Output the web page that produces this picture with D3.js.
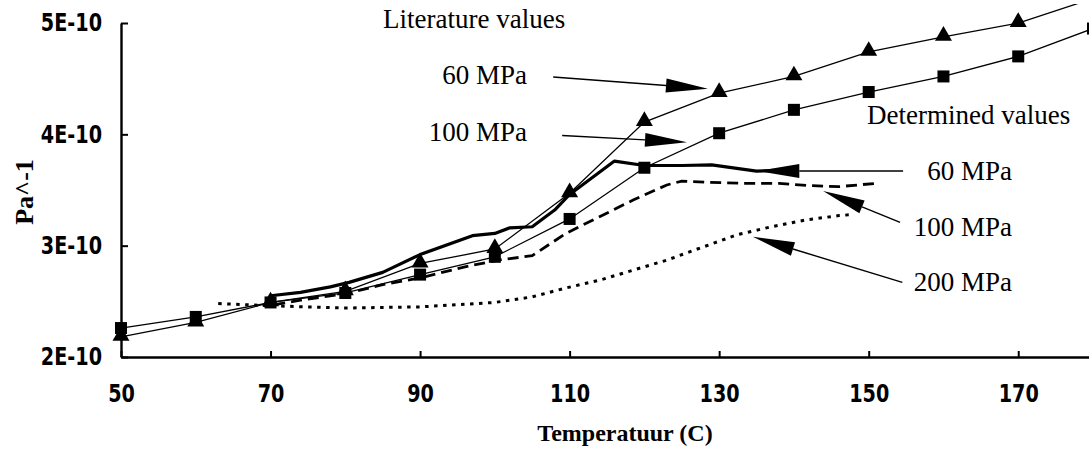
<!DOCTYPE html>
<html>
<head>
<meta charset="utf-8">
<script src="https://cdn.jsdelivr.net/npm/d3@7"></script>
<style>
  body { margin: 0; background: #fff; }
  svg { display: block; }
</style>
</head>
<body>
<div id="chart"></div>
<script>
// values in units of 1E-10 Pa^-1
const temps = [50, 60, 70, 80, 90, 100, 110, 120, 130, 140, 150, 160, 170, 180];
const literature = [2.18, 2.31, 2.49, 2.59, 2.84, 2.97, 3.47, 4.11, 4.37, 4.52, 4.74, 4.875, 5.0, 5.22];
const determined = [2.26, 2.36, 2.49, 2.575, 2.74, 2.90, 3.24, 3.70, 4.01, 4.22, 4.38, 4.52, 4.70, 4.95];

// determined values, measured curves
const t60 = [70, 74, 78, 80.5, 85, 90, 97, 100, 102, 105, 108, 110, 116, 120, 125, 129, 135, 140];
const v60 = [2.55, 2.58, 2.63, 2.67, 2.76, 2.92, 3.09, 3.11, 3.16, 3.17, 3.32, 3.46, 3.76, 3.72, 3.72, 3.725, 3.67, 3.68];
const t100 = [70.5, 74, 80.5, 85, 90, 96, 100.5, 105, 109.5, 114, 118.5, 123, 125, 128, 133, 138, 142, 146, 151];
const v100 = [2.47, 2.51, 2.575, 2.65, 2.71, 2.81, 2.87, 2.91, 3.11, 3.26, 3.41, 3.545, 3.58, 3.57, 3.56, 3.56, 3.54, 3.53, 3.56];
const t200 = [63, 70, 80, 90, 100, 105, 109.5, 114, 118.5, 123, 127.5, 132.5, 137, 141.5, 146, 148];
const v200 = [2.48, 2.46, 2.44, 2.45, 2.49, 2.54, 2.62, 2.69, 2.78, 2.87, 2.98, 3.10, 3.17, 3.23, 3.27, 3.28];

const xTicks = [50, 70, 90, 110, 130, 150, 170];
const yTicks = [2, 3, 4, 5];

// annotation arrows: [fromT, fromV, toT, toV]
const arrows = [
  [107.8, 4.515, 128.5, 4.41],
  [109.0, 3.99, 125.7, 3.93],
  [154.6, 3.67, 135.1, 3.67],
  [154.2, 3.21, 143.9, 3.49],
  [154.5, 2.67, 134.5, 3.08]
];
const notes = [
  { text: "Literature values", x: 383, y: 28, anchor: "start" },
  { text: "60 MPa", x: 527, y: 84, anchor: "end" },
  { text: "100 MPa", x: 527, y: 141, anchor: "end" },
  { text: "Determined values", x: 867, y: 124, anchor: "start" },
  { text: "60 MPa", x: 1012, y: 180, anchor: "end" },
  { text: "100 MPa", x: 1012, y: 236, anchor: "end" },
  { text: "200 MPa", x: 1012, y: 291, anchor: "end" }
];

const W = 1089, H = 451;
const tickFont = "'DejaVu Sans', sans-serif";
const serif = "'Liberation Serif', 'Times New Roman', serif";

const svg = d3.select("#chart").append("svg")
  .attr("width", W)
  .attr("height", H);

const x = d3.scaleLinear().domain([50, 180]).range([121, 1093]);
const y = d3.scaleLinear().domain([2, 5]).range([357, 23]);

svg.append("clipPath").attr("id", "clip")
  .append("rect").attr("x", 0).attr("y", 4).attr("width", W).attr("height", H);

const plot = svg.append("g").attr("clip-path", "url(#clip)");

const line = d3.line().x(d => x(d[0])).y(d => y(d[1]));

// marker series
plot.append("path")
  .datum(temps.map((t, i) => [t, literature[i]]))
  .attr("d", line).attr("fill", "none").attr("stroke", "#000").attr("stroke-width", 1.3);
plot.append("path")
  .datum(temps.map((t, i) => [t, determined[i]]))
  .attr("d", line).attr("fill", "none").attr("stroke", "#000").attr("stroke-width", 1.3);

// measured curves
plot.append("path")
  .datum(t60.map((t, i) => [t, v60[i]]))
  .attr("d", line).attr("fill", "none").attr("stroke", "#000").attr("stroke-width", 3.2)
  .attr("stroke-linejoin", "round");
plot.append("path")
  .datum(t100.map((t, i) => [t, v100[i]]))
  .attr("d", line).attr("fill", "none").attr("stroke", "#000").attr("stroke-width", 2.8)
  .attr("stroke-dasharray", "11,6");
plot.append("path")
  .datum(t200.map((t, i) => [t, v200[i]]))
  .attr("d", line).attr("fill", "none").attr("stroke", "#000").attr("stroke-width", 3)
  .attr("stroke-dasharray", "3.5,5.5");

// markers
plot.selectAll(".sq")
  .data(temps.map((t, i) => [t, determined[i]]))
  .enter().append("rect")
  .attr("class", "sq")
  .attr("x", d => x(d[0]) - 6).attr("y", d => y(d[1]) - 6)
  .attr("width", 12).attr("height", 12).attr("fill", "#000");

const tri = d3.symbol().type(d3.symbolTriangle).size(125);
plot.selectAll(".tri")
  .data(temps.slice(0, 13).map((t, i) => [t, literature[i]]))
  .enter().append("path")
  .attr("class", "tri")
  .attr("d", tri)
  .attr("transform", d => `translate(${x(d[0])},${y(d[1]) - 1})`)
  .attr("fill", "#000");

// axes
const yAxis = d3.axisLeft(y).tickValues(yTicks).tickSizeInner(-7).tickSizeOuter(0)
  .tickPadding(19).tickFormat(d => d + "E-10");
const xAxis = d3.axisBottom(x).tickValues(xTicks).tickSizeInner(-6).tickSizeOuter(0)
  .tickPadding(28).tickFormat(d3.format("d"));

const gy = svg.append("g").attr("transform", `translate(${x(50)},0)`).call(yAxis);
const gx = svg.append("g").attr("transform", `translate(0,${y(2)})`).call(xAxis);

[gx, gy].forEach(g => {
  g.select(".domain").attr("stroke-width", 2.4);
  g.selectAll(".tick line").attr("stroke-width", 2);
  g.selectAll("text")
    .attr("font-family", tickFont)
    .attr("font-weight", "bold")
    .attr("font-size", "24px")
    .attr("fill", "#000")
    .each(function () {
      // narrow the glyphs, like the condensed face of the original
      const w = this.getComputedTextLength();
      d3.select(this).attr("textLength", w * 0.8).attr("lengthAdjust", "spacingAndGlyphs");
    });
});

// axis titles
svg.append("text")
  .attr("x", 625).attr("y", 441)
  .attr("text-anchor", "middle")
  .attr("font-family", serif).attr("font-weight", "bold").attr("font-size", "24px")
  .text("Temperatuur (C)");

svg.append("text")
  .attr("transform", "translate(33,192) rotate(-90)")
  .attr("text-anchor", "middle")
  .attr("font-family", serif).attr("font-weight", "bold").attr("font-size", "26px")
  .text("Pa^-1");

// annotations
arrows.forEach(a => {
  const x0 = x(a[0]), y0 = y(a[1]), x1 = x(a[2]), y1 = y(a[3]);
  const ang = Math.atan2(y1 - y0, x1 - x0);
  const len = 42, half = 7;
  const bx = x1 - len * Math.cos(ang), by = y1 - len * Math.sin(ang);
  const px = -Math.sin(ang) * half, py = Math.cos(ang) * half;
  svg.append("line")
    .attr("x1", x0).attr("y1", y0).attr("x2", bx).attr("y2", by)
    .attr("stroke", "#000").attr("stroke-width", 1.4);
  svg.append("path")
    .attr("d", `M${x1},${y1}L${bx + px},${by + py}L${bx - px},${by - py}Z`)
    .attr("fill", "#000");
});

svg.selectAll(".note")
  .data(notes)
  .enter().append("text")
  .attr("class", "note")
  .attr("x", d => d.x).attr("y", d => d.y)
  .attr("text-anchor", d => d.anchor)
  .attr("font-family", serif).attr("font-size", "27px")
  .text(d => d.text);
</script>
</body>
</html>
